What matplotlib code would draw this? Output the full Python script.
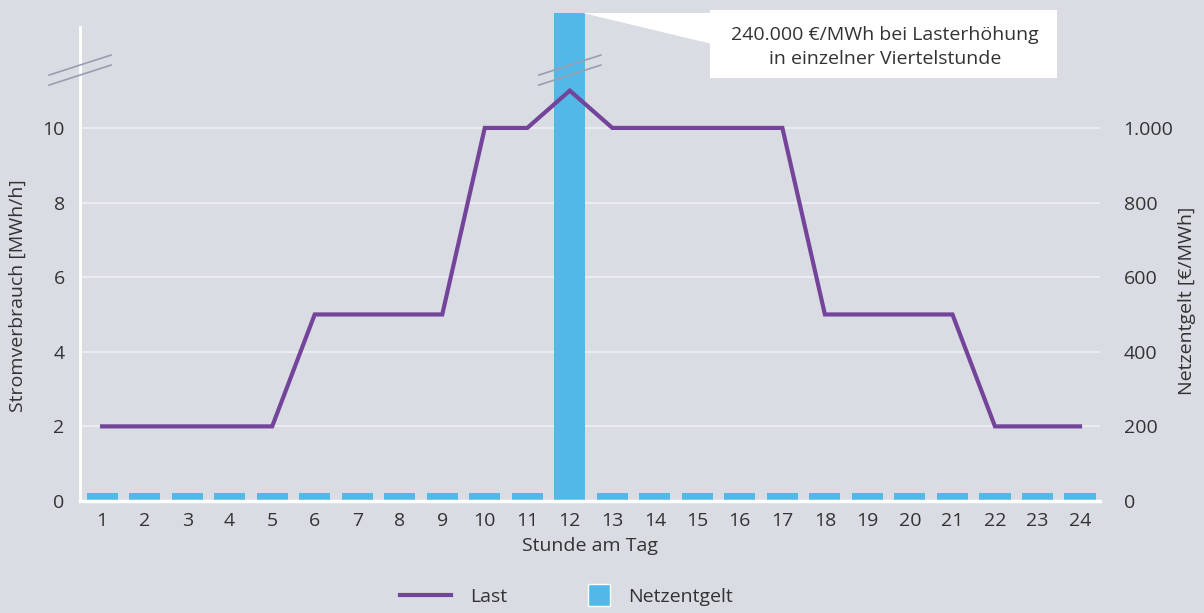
import matplotlib
matplotlib.use("Agg")
import matplotlib.pyplot as plt
import matplotlib.transforms as mtransforms
from matplotlib.lines import Line2D
from matplotlib.patches import Polygon, Rectangle
import numpy as np

plt.rcParams['font.family'] = ['Open Sans', 'DejaVu Sans']

hours = list(range(1, 25))
last = [2, 2, 2, 2, 2, 5, 5, 5, 5, 10, 10, 11, 10, 10, 10, 10, 10, 5, 5, 5, 5, 2, 2, 2]
netzentgelt = [22] * 11 + [240000] + [22] * 12
left_ticks = [0, 2, 4, 6, 8, 10]
right_ticks = [0, 200, 400, 600, 800, 1000]
right_labels = ["0", "200", "400", "600", "800", "1.000"]
annotation_text = "240.000 €/MWh bei Lasterhöhung\nin einzelner Viertelstunde"

BG = "#d9dce3"
BLUE = "#52b8e8"
PURPLE = "#74449a"
TXT = "#333333"
GRID = "#eaecf0"
W, H = 1204, 613
FS = 14

fig = plt.figure(figsize=(W / 100, H / 100), dpi=100, facecolor=BG)
ax = fig.add_axes([80 / W, 1 - 501 / H, 1020 / W, 488 / H])
ax2 = ax.twinx()
ax.set_zorder(ax2.get_zorder() + 1)
ax.patch.set_visible(False)
ax2.patch.set_facecolor(BG)

ymax = 13.08
ax.set_ylim(0, ymax)
ax2.set_ylim(0, ymax * 100)
ax.set_xlim(0.48, 24.47)

for t in right_ticks[1:]:
    ax2.axhline(t, color=GRID, lw=1.5, zorder=0)
ax2.bar(hours, netzentgelt, width=0.73, color=BLUE, zorder=2)
ax.plot(hours, last, color=PURPLE, lw=3.0, zorder=3, solid_joinstyle='miter')

ax.set_yticks(left_ticks)
ax.set_xticks(hours)
ax2.set_yticks(right_ticks)
ax2.set_yticklabels(right_labels)
for a in (ax, ax2):
    a.tick_params(length=0, labelsize=FS, labelcolor=TXT)
    for s in a.spines.values():
        s.set_visible(False)
ax.tick_params(axis='y', pad=11)
ax.tick_params(axis='x', pad=8)
ax2.tick_params(axis='y', pad=17)
ax2.grid(False)

ax.spines['left'].set_visible(True)
ax.spines['left'].set_color('white')
ax.spines['left'].set_linewidth(2)
ax.spines['left'].set_bounds(0, 12.7)
ax.spines['bottom'].set_visible(True)
ax.spines['bottom'].set_color('white')
ax.spines['bottom'].set_linewidth(2.5)

ax.set_xlabel("Stunde am Tag", fontsize=FS, color=TXT, labelpad=5)
ax.set_ylabel("Stromverbrauch [MWh/h]", fontsize=FS, color=TXT)
ax2.set_ylabel("Netzentgelt [€/MWh]", fontsize=FS, color=TXT)
ax.yaxis.set_label_coords(-53 / 1020, 0.42)
ax2.yaxis.set_label_coords(1 + 78 / 1020, 0.41)

# break marks
def break_mark(xc, yc):
    base = mtransforms.Affine2D() + mtransforms.ScaledTranslation(xc, yc, ax.transData)
    for off in (5, -5):
        ax.add_line(Line2D([-31, 31], [-10 + off, 10 + off], transform=base,
                           color="#9a9db0", lw=1.2, clip_on=False, zorder=5))

break_mark(0.48, 11.55)
break_mark(12, 11.55)

# callout
def fp(x, y):
    return (x / W, 1 - y / H)

fig.patches.append(Polygon([fp(583, 13), fp(712, 13), fp(712, 44)], closed=True,
                           transform=fig.transFigure, facecolor='white', edgecolor='none', zorder=5))
fig.patches.append(Rectangle(fp(710, 78), 347 / W, 68 / H, transform=fig.transFigure,
                             facecolor='white', edgecolor='none', zorder=5))
fig.text(*fp(885, 47), annotation_text, ha='center', va='center', fontsize=FS,
         color=TXT, linespacing=1.38, zorder=6)

h_last = Line2D([], [], color=PURPLE, lw=3.0)
h_netz = Line2D([], [], marker='s', markersize=16, color=BLUE, markeredgecolor='white',
                markeredgewidth=1, linestyle='none')
leg1 = fig.legend([h_last], ["Last"], loc='center left', bbox_to_anchor=fp(400, 597),
                  frameon=False, fontsize=FS, handlelength=2.6, handletextpad=1.0,
                  borderpad=0, borderaxespad=0, labelcolor=TXT)
leg2 = fig.legend([h_netz], ["Netzentgelt"], loc='center left', bbox_to_anchor=fp(587, 597),
                  frameon=False, fontsize=FS, handlelength=1.2, handletextpad=0.9,
                  borderpad=0, borderaxespad=0, labelcolor=TXT)

fig.savefig("out.png", dpi=100, facecolor=BG)
